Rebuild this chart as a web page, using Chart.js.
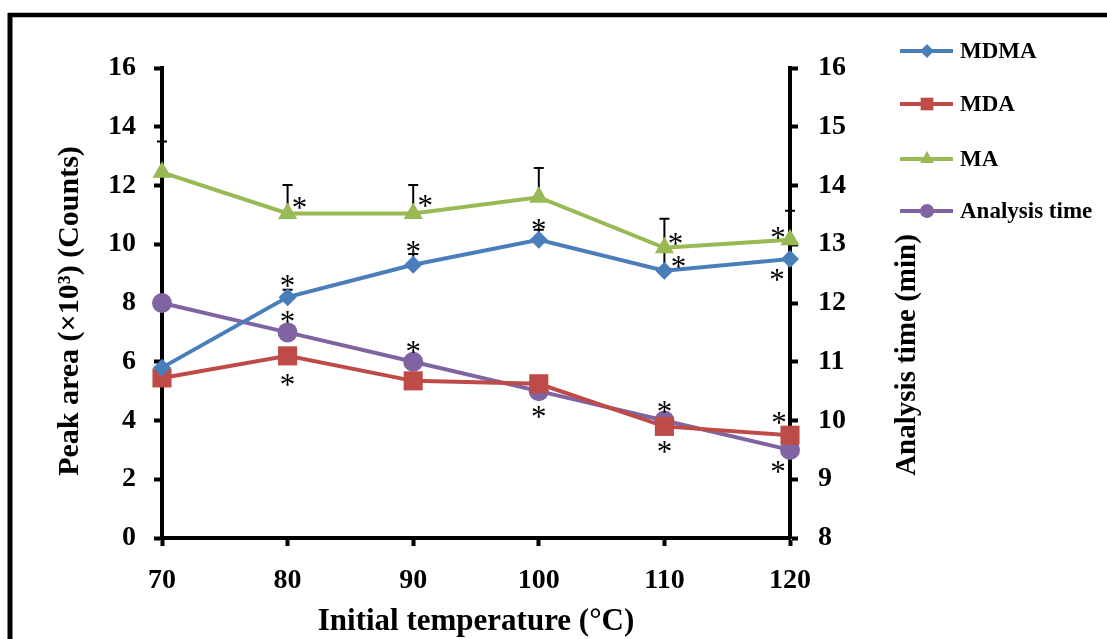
<!DOCTYPE html>
<html>
<head>
<meta charset="utf-8">
<script src="https://cdn.jsdelivr.net/npm/chart.js@4.4.0/dist/chart.umd.min.js"></script>
<style>
  html, body { margin: 0; padding: 0; background: #fff; }
  #wrap { position: relative; width: 1107px; height: 639px; }
</style>
</head>
<body>
<div id="wrap"><canvas id="chart" width="1107" height="639"></canvas></div>
<script>
// values
const temps = ['70', '80', '90', '100', '110', '120'];
const mdma = [5.8, 8.2, 9.3, 10.15, 9.1, 9.5];
const mda = [5.45, 6.2, 5.35, 5.25, 3.8, 3.5];
const ma = [12.45, 11.05, 11.05, 11.6, 9.88, 10.15];
const analysisTime = [12, 11.5, 11, 10.5, 10, 9.5];
const mdmaErr = [0, 0.25, 0.37, 0.34, 0.7, 0];
const maErr = [1.05, 0.97, 0.97, 1.0, 0.99, 0.99];

const serif = '"Liberation Serif", "Times New Roman", serif';
const tickFont = {family: serif, size: 28, weight: 'bold'};

// significance marks: [dataset, point, dx, dy]
const stars = [
    [0, 1, 0, -16], [0, 2, 0, -18], [0, 3, 0, -15], [0, 4, 14, -9], [0, 5, -13, 16],
    [2, 1, 12, -10], [2, 2, 12, -12], [2, 4, 11, -9], [2, 5, -12, -7],
    [3, 1, 0, -15], [3, 2, 0, -15], [3, 4, 0, -14], [3, 5, -12, 17],
    [1, 1, 0, 24], [1, 3, 0, 28], [1, 4, 0, 21], [1, 5, -11, -17]
];

const framePlugin = {
    id: 'frame',
    beforeDraw(chart) {
        const ctx = chart.ctx;
        ctx.save();
        ctx.fillStyle = '#fff';
        ctx.fillRect(0, 0, chart.width, chart.height);
        ctx.strokeStyle = '#000';
        ctx.lineWidth = 5;
        ctx.beginPath();
        ctx.moveTo(10, 13);
        ctx.lineTo(10, chart.height);
        ctx.stroke();
        ctx.lineWidth = 4.5;
        ctx.beginPath();
        ctx.moveTo(8, 15);
        ctx.lineTo(chart.width, 15);
        ctx.stroke();
        ctx.restore();
    },
    beforeDatasetsDraw(chart) {
        // upward error bars, drawn behind the lines
        const ctx = chart.ctx;
        const x = chart.scales.x, y = chart.scales.y;
        ctx.save();
        ctx.strokeStyle = '#000';
        ctx.lineWidth = 2;
        const bars = [[mdma, mdmaErr], [ma, maErr]];
        bars.forEach(([vals, errs]) => {
            vals.forEach((v, i) => {
                if (!errs[i]) return;
                const px = x.getPixelForValue(i);
                const y0 = y.getPixelForValue(v);
                const y1 = y.getPixelForValue(v + errs[i]);
                ctx.beginPath();
                ctx.moveTo(px, y0);
                ctx.lineTo(px, y1);
                ctx.moveTo(px - 5, y1);
                ctx.lineTo(px + 5, y1);
                ctx.stroke();
            });
        });
        ctx.restore();
    },
    afterDraw(chart) {
        const ctx = chart.ctx;
        ctx.save();

        // asterisks
        ctx.fillStyle = '#000';
        ctx.font = '31px ' + serif;
        ctx.textAlign = 'center';
        ctx.textBaseline = 'alphabetic';
        const m = ctx.measureText('*');
        const mid = (m.actualBoundingBoxAscent - m.actualBoundingBoxDescent) / 2;
        stars.forEach(([d, i, dx, dy]) => {
            const pt = chart.getDatasetMeta(d).data[i];
            ctx.fillText('*', pt.x + dx, pt.y + dy + mid);
        });

        // axis titles
        ctx.font = 'bold 31px ' + serif;
        ctx.textAlign = 'center';
        ctx.fillText('Initial temperature (\u00B0C)', 476, 630);

        ctx.save();
        ctx.font = 'bold 30px ' + serif;
        ctx.translate(78, 311);
        ctx.rotate(-Math.PI / 2);
        ctx.fillText('Peak area (\u00D710\u00B3) (Counts)', 0, 0);
        ctx.restore();

        ctx.save();
        ctx.font = 'bold 29px ' + serif;
        ctx.translate(915, 355);
        ctx.rotate(-Math.PI / 2);
        ctx.fillText('Analysis time (min)', 0, 0);
        ctx.restore();

        // legend
        const rows = [51, 104, 159, 211];
        const sizes = [7, 9, 8, 7];
        ctx.font = 'bold 23px ' + serif;
        ctx.textAlign = 'left';
        ctx.textBaseline = 'middle';
        chart.data.datasets.forEach((ds, k) => {
            const ly = rows[k];
            ctx.strokeStyle = ds.borderColor;
            ctx.lineWidth = 4;
            ctx.beginPath();
            ctx.moveTo(900, ly);
            ctx.lineTo(953, ly);
            ctx.stroke();
            ctx.fillStyle = ds.backgroundColor;
            Chart.helpers.drawPoint(ctx, {pointStyle: ds.pointStyle, radius: sizes[k], borderWidth: 0, rotation: 0}, 927, ly);
            ctx.fillStyle = '#000';
            ctx.fillText(ds.label, 960, ly + 1);
        });
        ctx.restore();
    }
};

function series(label, data, color, style, radius, axis) {
    return {
        label: label,
        data: data,
        yAxisID: axis,
        borderColor: color,
        backgroundColor: color,
        pointBackgroundColor: color,
        pointBorderColor: color,
        pointBorderWidth: 0,
        pointStyle: style,
        pointRadius: radius,
        borderWidth: 4,
        tension: 0,
        clip: false
    };
}

new Chart(document.getElementById('chart'), {
    type: 'line',
    data: {
        labels: temps,
        datasets: [
            series('MDMA', mdma, '#4A7EBB', 'rectRot', 9, 'y'),
            series('MDA', mda, '#BE4B48', 'rect', 13.5, 'y'),
            series('MA', ma, '#98B954', 'triangle', 11, 'y'),
            series('Analysis time', analysisTime, '#8064A2', 'circle', 10, 'y1')
        ]
    },
    options: {
        responsive: false,
        animation: false,
        layout: {padding: {top: 68, left: 0, right: 0, bottom: 0}},
        plugins: {legend: {display: false}, tooltip: {enabled: false}},
        scales: {
            x: {
                grid: {drawOnChartArea: false, tickLength: 8, tickWidth: 4, tickColor: '#000'},
                border: {color: '#000', width: 4},
                ticks: {font: tickFont, color: '#000', padding: 18, maxRotation: 0},
                afterFit(s) { s.height = 101; }
            },
            y: {
                position: 'left',
                min: 0,
                max: 16,
                grid: {drawOnChartArea: false, tickLength: 8, tickWidth: 4, tickColor: '#000'},
                border: {color: '#000', width: 4},
                ticks: {stepSize: 2, font: tickFont, color: '#000', padding: 18},
                afterFit(s) { s.width = 162; }
            },
            y1: {
                position: 'right',
                min: 8,
                max: 16,
                grid: {drawOnChartArea: false, tickLength: 8, tickWidth: 4, tickColor: '#000'},
                border: {color: '#000', width: 4},
                ticks: {stepSize: 1, font: tickFont, color: '#000', padding: 20},
                afterFit(s) { s.width = 317; }
            }
        }
    },
    plugins: [framePlugin]
});
</script>
</body>
</html>
